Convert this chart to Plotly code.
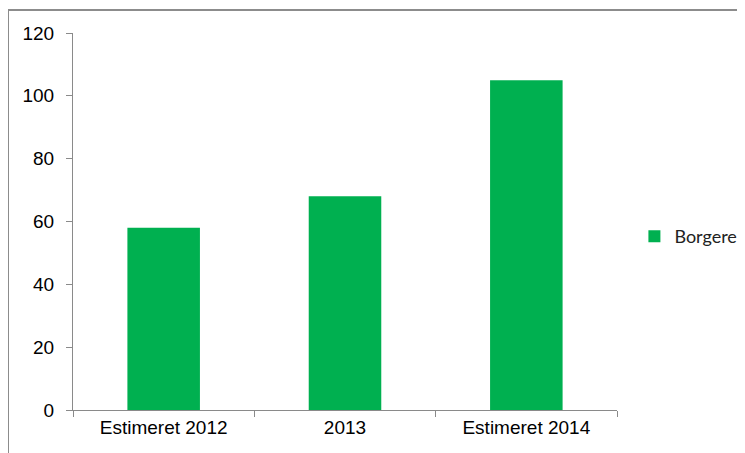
import plotly.graph_objects as go

categories = ["Estimeret 2012", "2013", "Estimeret 2014"]
values = [58, 68, 105]
series_name = "Borgere"
y_ticks = [0, 20, 40, 60, 80, 100, 120]

fig = go.Figure()
fig.add_trace(go.Bar(x=categories, y=values, name=series_name,
                     marker=dict(color="#00B050", line=dict(width=0))))

fig.update_layout(
    width=745, height=453,
    margin=dict(l=65, r=136, t=25, b=51, autoexpand=False),
    paper_bgcolor="white", plot_bgcolor="white",
    bargap=0.6,
    showlegend=True,
    legend=dict(x=1.032, y=0.46, xanchor="left", yanchor="middle",
                font=dict(family="Lato", size=18, color="#222"),
                itemwidth=30, bgcolor="rgba(0,0,0,0)"),
    font=dict(family="Liberation Sans, Arial", size=19, color="black"),
)
fig.update_xaxes(showline=True, linecolor="#8a8a8a", linewidth=1,
                 ticks="outside", tickson="boundaries", ticklen=6,
                 tickcolor="#8a8a8a", showgrid=False, mirror=False,
                 automargin=False)
fig.update_yaxes(range=[0, 120], tickvals=y_ticks, showline=True,
                 linecolor="#8a8a8a", linewidth=1, ticks="outside",
                 ticklen=6, tickcolor="#8a8a8a", showgrid=False,
                 zeroline=False, ticklabelstandoff=8, automargin=False)
# outer chart frame
fig.add_shape(type="rect", xref="paper", yref="paper",
              x0=-0.1195, x1=1.4, y0=-0.3, y1=1.061,
              line=dict(color="#8c8c8c", width=2), fillcolor="rgba(0,0,0,0)",
              layer="below")

fig.write_html("out.html")
